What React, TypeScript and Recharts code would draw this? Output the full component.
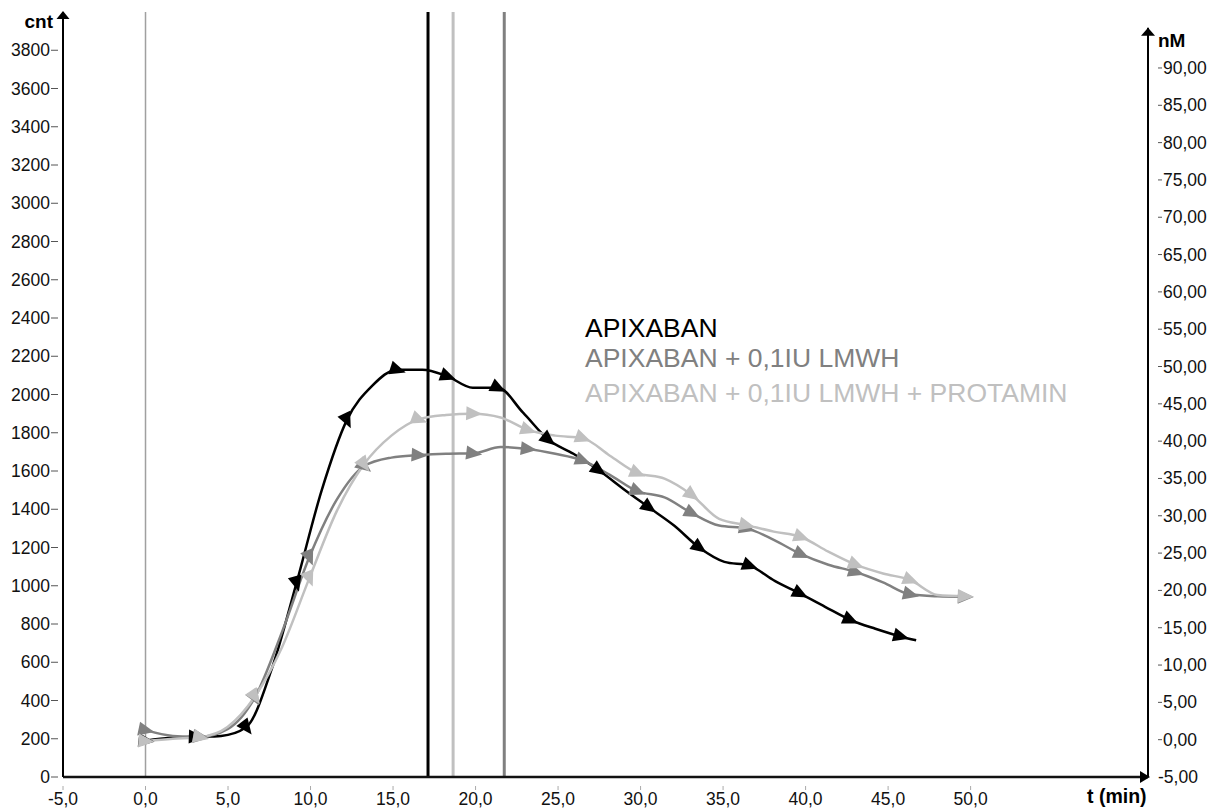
import React from 'react';
import { LineChart, Line, XAxis, YAxis, ReferenceLine, ReferenceDot } from 'recharts';

// APIXABAN (black) - thrombin generation, cnt vs t (min)
const apixabanTime = [
  0, 1.53, 3.05, 4.58, 6.1, 7.63, 9.15, 10.68, 12.2, 13.73, 15.25, 16.78, 18.3, 19.83, 21.35, 22.88,
  24.4, 25.93, 27.45, 28.98, 30.5, 32.03, 33.55, 35.08, 36.6, 38.13, 39.65, 41.18, 42.7, 44.23, 45.75, 46.7,
];
const apixabanCnt = [
  190, 205, 210, 215, 260, 560, 1014, 1500, 1866, 2045, 2130, 2130, 2095, 2035, 2035, 1905,
  1765, 1690, 1605, 1505, 1410, 1315, 1200, 1125, 1105, 1025, 960, 890, 822, 775, 735, 715,
];

// APIXABAN + 0,1IU LMWH (mid grey) and + PROTAMIN (light grey)
const lmwhTime = [
  0, 1.66, 3.31, 4.97, 6.62, 8.28, 9.93, 11.59, 13.24, 14.9, 16.55, 18.21, 19.86, 21.52, 23.17, 24.83,
  26.48, 28.14, 29.79, 31.45, 33.1, 34.76, 36.41, 38.07, 39.72, 41.38, 43.03, 44.69, 46.34, 48.0, 49.65,
];
const lmwhCnt = [
  245, 215, 210, 250, 415, 760, 1150, 1450, 1625, 1670, 1683, 1690, 1692, 1725, 1715, 1690,
  1655, 1580, 1495, 1462, 1380, 1315, 1300, 1240, 1165, 1110, 1072, 1018, 955, 945, 942,
];
const protaminCnt = [
  188, 200, 209, 262, 420, 680, 1040, 1390, 1635, 1785, 1870, 1893, 1900, 1880, 1815, 1785,
  1772, 1680, 1590, 1560, 1475, 1350, 1317, 1283, 1255, 1178, 1110, 1064, 1030, 952, 945,
];

const cntTicks = [0, 200, 400, 600, 800, 1000, 1200, 1400, 1600, 1800, 2000, 2200, 2400, 2600, 2800, 3000, 3200, 3400, 3600, 3800];
const nmTicks = [-5, 0, 5, 10, 15, 20, 25, 30, 35, 40, 45, 50, 55, 60, 65, 70, 75, 80, 85, 90];
const timeTicks = [-5, 0, 5, 10, 15, 20, 25, 30, 35, 40, 45, 50];

// vertical markers (t = 0 and the three time-to-peak lines)
const startTime = 0;
const apixabanPeak = 17.12;
const protaminPeak = 18.64;
const lmwhPeak = 21.74;

const X_MAX = 60.75;
const FONT = '"Liberation Sans", Arial, sans-serif';

const apixabanData = apixabanTime.map((t, i) => ({ t, cnt: apixabanCnt[i] }));
const lmwhData = lmwhTime.map((t, i) => ({ t, cnt: lmwhCnt[i] }));
const protaminData = lmwhTime.map((t, i) => ({ t, cnt: protaminCnt[i] }));

const makeMarker = (color: string) => (props: any) => {
  const { cx, cy, index, points } = props;
  if (cx == null || cy == null || index % 2 !== 0) return <g key={`m-${color}-${index}`} />;
  let angle = 0;
  if (points && points.length > 1) {
    const a = points[Math.max(0, index - 1)];
    const b = points[Math.min(points.length - 1, index + 1)];
    angle = (Math.atan2(Math.abs(b.y - a.y), b.x - a.x) * 180) / Math.PI;
  }
  return (
    <path
      key={`m-${color}-${index}`}
      d={`M${cx + 9},${cy} L${cx - 7},${cy - 7} L${cx - 7},${cy + 7} Z`}
      fill={color}
      transform={`rotate(${angle} ${cx} ${cy})`}
    />
  );
};

const LeftTick = ({ x, y, payload }: any) => (
  <g>
    <line x1={x - 10} x2={x - 3} y1={y} y2={y} stroke="#555" strokeWidth={1} />
    <text x={x - 11} y={y + 6} textAnchor="end" fontSize={17.5} fontFamily={FONT} fill="#111">
      {payload.value}
    </text>
  </g>
);

const RightTick = ({ x, y, payload }: any) => (
  <g>
    {payload.value >= 0 && <line x1={x + 8} x2={x + 12} y1={y} y2={y} stroke="#555" strokeWidth={1} />}
    <text x={x + (payload.value >= 0 ? 13 : 8)} y={y + 6} textAnchor="start" fontSize={17.5} fontFamily={FONT} fill="#111">
      {payload.value.toFixed(2).replace('.', ',')}
    </text>
  </g>
);

const BottomTick = ({ x, y, payload }: any) => (
  <g>
    <line x1={x} x2={x} y1={y + 7} y2={y + 11} stroke="#aaa" strokeWidth={1} />
    <text x={x} y={y + 26} textAnchor="middle" fontSize={17.5} fontFamily={FONT} fill="#111">
      {payload.value.toFixed(1).replace('.', ',')}
    </text>
  </g>
);

export default function App() {
  return (
    <div style={{ position: 'relative', width: 1225, height: 812, background: '#fff' }}>
      <style>{`body{margin:0}`}</style>
      <LineChart width={1225} height={812} margin={{ top: 12, right: 0, bottom: 0, left: 0 }}>
        <XAxis
          type="number"
          dataKey="t"
          domain={[-5, X_MAX]}
          ticks={timeTicks}
          tick={<BottomTick />}
          tickSize={0}
          tickLine={false}
          height={35}
          axisLine={{ stroke: '#111', strokeWidth: 2.5 }}
          allowDataOverflow
        />
        <YAxis
          yAxisId="left"
          domain={[0, 4000]}
          ticks={cntTicks}
          tick={<LeftTick />}
          tickSize={0}
          tickLine={false}
          width={63}
          axisLine={{ stroke: '#000', strokeWidth: 2 }}
          allowDataOverflow
        />
        <YAxis
          yAxisId="right"
          orientation="right"
          domain={[-5, 97.5]}
          ticks={nmTicks}
          tick={<RightTick />}
          tickSize={0}
          tickLine={false}
          width={77}
          axisLine={false}
          allowDataOverflow
        />

        <ReferenceLine yAxisId="left" x={startTime} stroke="#a0a0a0" strokeWidth={1.5} />
        <ReferenceLine yAxisId="left" x={apixabanPeak} stroke="#000" strokeWidth={3} />
        <ReferenceLine yAxisId="left" x={protaminPeak} stroke="#c0c0c0" strokeWidth={3} />
        <ReferenceLine yAxisId="left" x={lmwhPeak} stroke="#808080" strokeWidth={3} />
        <ReferenceLine
          yAxisId="right"
          segment={[{ x: X_MAX, y: -5 }, { x: X_MAX, y: 95.4 }]}
          stroke="#000"
          strokeWidth={2}
          ifOverflow="visible"
        />

        <Line
          yAxisId="left"
          data={apixabanData}
          dataKey="cnt"
          type="monotone"
          stroke="#000"
          strokeWidth={2.5}
          dot={makeMarker('#000')}
          activeDot={false}
          isAnimationActive={false}
        />
        <Line
          yAxisId="left"
          data={lmwhData}
          dataKey="cnt"
          type="monotone"
          stroke="#808080"
          strokeWidth={2.5}
          dot={makeMarker('#808080')}
          activeDot={false}
          isAnimationActive={false}
        />
        <Line
          yAxisId="left"
          data={protaminData}
          dataKey="cnt"
          type="monotone"
          stroke="#c0c0c0"
          strokeWidth={2.5}
          dot={makeMarker('#c0c0c0')}
          activeDot={false}
          isAnimationActive={false}
        />

        <ReferenceDot
          yAxisId="left"
          x={-5}
          y={4000}
          ifOverflow="visible"
          shape={(p: any) => <path d={`M${p.cx},${p.cy - 1} L${p.cx + 6.5},${p.cy + 7} L${p.cx - 6.5},${p.cy + 7} Z`} fill="#000" />}
        />
        <ReferenceDot
          yAxisId="right"
          x={X_MAX}
          y={95.4}
          ifOverflow="visible"
          shape={(p: any) => <path d={`M${p.cx},${p.cy} L${p.cx + 7},${p.cy + 8} L${p.cx - 7},${p.cy + 8} Z`} fill="#000" />}
        />
        <ReferenceDot
          yAxisId="left"
          x={X_MAX}
          y={0}
          ifOverflow="visible"
          shape={(p: any) => <path d={`M${p.cx + 2},${p.cy} L${p.cx - 8},${p.cy - 6} L${p.cx - 8},${p.cy + 6} Z`} fill="#000" />}
        />
      </LineChart>

      <svg width={1225} height={812} style={{ position: 'absolute', left: 0, top: 0, pointerEvents: 'none' }}>
        <text x={53} y={28} textAnchor="end" fontSize={19} fontWeight="bold" fontFamily={FONT}>cnt</text>
        <text x={1158} y={47} fontSize={19} fontWeight="bold" fontFamily={FONT}>nM</text>
        <text x={1087} y={803} fontSize={19.5} fontWeight="bold" fontFamily={FONT}>t (min)</text>
        <text x={585} y={337} fontSize={26.5} fontFamily={FONT} fill="#000">APIXABAN</text>
        <text x={585} y={367} fontSize={26.5} fontFamily={FONT} fill="#808080">APIXABAN + 0,1IU LMWH</text>
        <text x={585} y={402} fontSize={26.5} fontFamily={FONT} fill="#c0c0c0">APIXABAN + 0,1IU LMWH + PROTAMIN</text>
      </svg>
    </div>
  );
}
